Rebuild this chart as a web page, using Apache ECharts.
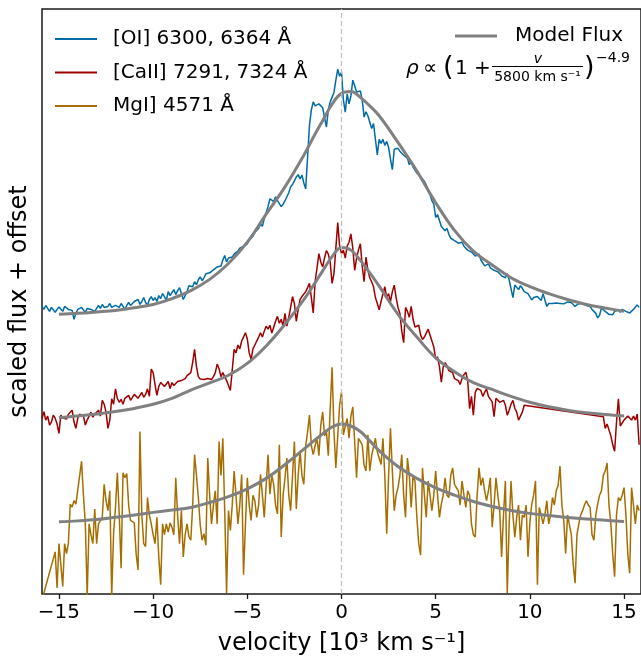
<!DOCTYPE html>
<html>
<head>
<meta charset="utf-8">
<script src="https://cdn.jsdelivr.net/npm/echarts@6/dist/echarts.min.js"></script>
<style>
  html, body { margin: 0; padding: 0; background: #fff; }
  #chart { width: 641px; height: 661px; }
</style>
</head>
<body>
<div id="chart"></div>
<script>
// Velocities in 10^3 km/s. Spectra are sampled every 0.1; each row holds one unit of velocity.
const velocityTicks = [-15, -10, -5, 0, 5, 10, 15];

// [OI] 6300, 6364 profile, rows start at -15.9
const oiStart = -15.9;
const oiRows = [
  [1.455,1.44,1.46,1.445,1.43,1.45,1.438,1.425,1.44,1.452],
  [1.445,1.43,1.455,1.46,1.44,1.45,1.435,1.39,1.42,1.44],
  [1.435,1.45,1.44,1.425,1.445,1.455,1.44,1.45,1.43,1.445],
  [1.46,1.445,1.465,1.45,1.44,1.455,1.47,1.45,1.44,1.46],
  [1.465,1.45,1.47,1.455,1.44,1.46,1.475,1.46,1.45,1.48],
  [1.47,1.49,1.465,1.48,1.5,1.475,1.46,1.49,1.505,1.485],
  [1.5,1.48,1.51,1.495,1.52,1.505,1.485,1.53,1.51,1.525],
  [1.54,1.515,1.535,1.55,1.52,1.49,1.48,1.53,1.56,1.57],
  [1.555,1.58,1.565,1.59,1.605,1.585,1.6,1.62,1.61,1.625],
  [1.615,1.64,1.63,1.655,1.645,1.66,1.69,1.713,1.68,1.7],
  [1.69,1.705,1.72,1.71,1.735,1.75,1.74,1.76,1.755,1.772],
  [1.79,1.78,1.81,1.83,1.82,1.85,1.872,1.86,1.9,1.93],
  [1.96,2.0,2.005,1.985,2.01,1.99,1.975,1.96,1.972,1.99],
  [2.0,2.03,2.06,2.072,2.09,2.11,2.122,2.1,2.12,2.08],
  [2.05,2.04,2.372,2.45,2.49,2.47,2.463,2.48,2.49,2.46],
  [2.47,2.363,2.45,2.49,2.5,2.538,2.6,2.655,2.62,2.64],
  [2.5,2.438,2.53,2.48,2.52,2.6,2.572,2.54,2.55,2.545],
  [2.5,2.413,2.44,2.42,2.43,2.355,2.38,2.37,2.222,2.3],
  [2.28,2.3,2.27,2.29,2.26,2.2,2.147,2.25,2.24,2.255],
  [2.24,2.238,2.22,2.23,2.205,2.172,2.19,2.16,2.15,2.13],
  [2.14,2.11,2.1,2.088,2.07,2.038,2.02,1.99,1.972,1.905],
  [1.92,1.89,1.86,1.87,1.838,1.85,1.82,1.8,1.81,1.788],
  [1.79,1.775,1.77,1.78,1.76,1.755,1.74,1.75,1.73,1.72],
  [1.71,1.705,1.72,1.69,1.68,1.66,1.655,1.67,1.65,1.64],
  [1.638,1.645,1.63,1.62,1.61,1.605,1.6,1.62,1.59,1.58],
  [1.5,1.563,1.555,1.54,1.56,1.547,1.53,1.54,1.52,1.513],
  [1.488,1.5,1.49,1.505,1.497,1.485,1.52,1.522,1.455,1.47],
  [1.475,1.47,1.465,1.472,1.48,1.47,1.475,1.468,1.472,1.478],
  [1.48,1.475,1.47,1.455,1.462,1.47,1.465,1.468,1.472,1.46],
  [1.45,1.455,1.44,1.43,1.42,1.397,1.41,1.447,1.44,1.43],
  [1.425,1.415,1.405,1.413,1.43,1.42,1.438,1.425,1.44,1.438],
  [1.43,1.438,1.422,1.43,1.44,1.435,1.463,1.45]
];

// [CaII] 7291, 7324 profile: two stretches with a masked band between them
const caStartA = -15.9;
const caRowsA = [
  [0.888,0.922,0.88,0.9,0.855,0.87,0.905,0.89,0.86,0.813],
  [0.905,0.89,0.9,0.885,0.91,0.9,0.93,0.87,0.838,0.89],
  [0.91,0.92,0.9,0.855,0.88,0.9,0.92,0.895,0.91,0.92],
  [0.93,0.9,0.98,0.96,0.92,0.838,0.88,0.988,0.96,1.038],
  [0.99,0.97,0.985,0.96,0.99,1.0,1.005,0.98,0.995,1.01],
  [1.0,0.99,1.005,1.02,0.995,1.01,1.038,1.0,1.138,1.12],
  [1.06,1.005,1.05,1.07,1.08,1.05,1.06,1.075,1.04,1.07],
  [1.055,1.06,1.075,1.065,1.08,1.07,1.09,1.105,1.1,1.12],
  [1.172,1.238,1.15,1.1,1.088,1.09,1.085,1.09,1.09,1.09],
  [1.085,1.1,1.12,1.163,1.14,1.1,1.12,1.11,1.08,1.055],
  [1.03,1.022,1.238,1.22,1.26,1.24,1.28,1.3,1.322,1.29],
  [1.22,1.188,1.24,1.26,1.255,1.3,1.322,1.3,1.33,1.355],
  [1.34,1.36,1.32,1.35,1.38,1.405,1.37,1.39,1.355,1.42],
  [1.355,1.4,1.45,1.505,1.47,1.38,1.44,1.49,1.505,1.5],
  [1.53,1.55,1.572,1.5,1.422,1.58,1.65,1.722,1.68,1.655],
  [1.7,1.738,1.72,1.68,1.572,1.62,1.75,1.88,1.76,1.722],
  [1.74,1.7,1.76,1.78,1.822,1.75,1.638,1.7,1.74,1.772],
  [1.66,1.58,1.705,1.64,1.6,1.58,1.555,1.5,1.47,1.438],
  [1.48,1.52,1.555,1.5,1.52,1.48,1.53,1.563,1.5,1.45],
  [1.42,1.33,1.272,1.45,1.43,1.4,1.455,1.39,1.35,1.355],
  [1.36,1.31,1.288,1.3,1.32,1.34,1.33,1.28,1.25,1.188],
  [1.2,1.15,1.072,1.15,1.17,1.155,1.13,1.14,1.12,1.09],
  [1.1,1.08,1.06,1.09,1.11,1.122,1.08,0.938,1.0,0.905],
  [1.02,1.04,1.038,1.03,1.0,1.02,1.038,1.0,1.01,0.972],
  [0.897,0.99,0.99,0.97,0.96,0.98,0.955,0.905,0.93,0.96],
  [0.98,0.94,0.92,0.88,0.9,0.92,0.955]
];
const caStartB = 13.9;
const caRowsB = [
  [0.897,0.838,0.86,0.85,0.8,0.755,0.722,0.87,0.988,0.85],
  [0.86,0.88,0.87,0.9,0.89,0.88,0.9,0.88,0.91,0.755]
];

// MgI] 4571 profile, rows start at -15.9 (null = no sample)
const mgStart = -15.9;
const mgRows = [
  [-0.03,null,null,null,null,null,null,0.213,0.03,0.255],
  [0.15,0.038,0.255,0.205,0.255,0.455,0.44,0.472,0.455,null],
  [null,0.672,0.5,0.355,-0.01,0.355,0.3,0.255,0.43,0.255],
  [0.355,0.35,0.388,0.555,0.472,0.422,0.522,-0.01,0.305,0.438],
  [0.613,0.405,0.13,0.613,0.588,0.61,0.45,0.372,0.38,0.36],
  [0.2,0.122,0.822,0.4,0.255,0.24,0.488,0.4,0.355,0.3],
  [0.255,0.388,0.188,0.047,0.355,0.3,0.355,0.313,0.36,0.338],
  [0.3,0.588,0.4,0.255,0.422,0.188,0.3,0.355,0.29,0.272],
  [0.45,0.705,0.6,0.488,0.35,0.272,0.305,0.247,0.688,0.5],
  [0.355,0.45,0.522,0.355,0.772,0.6,0.788,0.422,0.005,0.422],
  [0.322,0.45,0.622,0.5,0.355,0.45,0.605,0.097,0.35,0.588],
  [0.45,0.372,0.5,0.472,0.388,0.45,0.605,0.5,0.388,0.55],
  [0.705,0.505,0.6,0.555,0.45,0.405,0.755,0.288,0.5,0.588],
  [0.688,0.5,0.422,0.6,0.772,0.43,0.6,0.722,0.6,0.555],
  [0.75,0.822,0.905,0.75,0.705,0.75,0.788,0.7,0.855,0.922],
  [0.8,0.822,0.7,0.938,1.147,0.822,0.638,0.8,0.955,1.022],
  [0.805,0.85,0.888,0.788,0.9,0.947,0.955,0.588,0.788,0.78],
  [0.755,0.65,0.622,0.805,0.622,0.7,0.705,0.788,0.72,0.688],
  [0.655,0.788,0.6,0.305,0.6,0.838,0.62,0.422,0.5,0.538],
  [0.6,0.705,0.5,0.388,0.688,0.6,0.438,0.6,0.572,0.388],
  [0.255,0.197,0.638,0.5,0.388,0.572,0.5,0.422,0.5,0.622],
  [0.5,0.388,0.455,0.5,0.588,0.5,0.488,0.6,0.638,0.555],
  [0.56,0.522,0.45,0.572,0.5,0.438,0.522,0.5,0.355,0.3],
  [0.288,0.5,0.638,0.55,0.588,0.522,0.472,0.522,0.588,0.338],
  [0.45,0.588,0.5,0.422,0.188,0.4,0.572,0.005,0.35,0.572],
  [0.4,0.288,0.388,0.45,0.272,0.4,0.388,0.45,0.188,0.36],
  [0.455,0.5,0.572,0.047,0.438,0.4,0.355,0.4,0.472,0.355],
  [0.4,0.488,0.45,0.522,0.55,0.647,0.45,0.372,0.205,0.4],
  [0.405,0.3,0.15,0.055,0.3,0.355,0.4,0.422,0.45,0.472],
  [0.45,0.438,0.3,0.272,0.4,0.455,0.5,0.522,0.6,0.622],
  [0.663,0.45,0.355,0.2,0.088,0.4,0.488,0.472,0.5,0.538],
  [0.4,0.2,0.105,0.538,0.45,0.355,0.45,0.422]
];

// Model flux for a density profile rho ~ (1 + v/5800 km/s)^-4.9, per line (with its offset)
const modelVelocity = [-15,-14,-13,-12,-11,-10,-9,-8,-7,-6,-5,-4,-3,-2,-1.5,-1,-0.5,0,0.5,1,1.5,2,3,4,5,6,7,8,9,10,11,12,13,14,15];
const oiModel = [1.415,1.42,1.427,1.435,1.448,1.465,1.495,1.535,1.592,1.672,1.78,1.922,2.06,2.22,2.31,2.395,2.478,2.533,2.542,2.513,2.47,2.42,2.285,2.14,1.98,1.84,1.735,1.665,1.6,1.555,1.52,1.49,1.465,1.447,1.43];
const caModel = [0.893,0.901,0.911,0.923,0.939,0.96,0.99,1.032,1.068,1.107,1.167,1.255,1.365,1.49,1.56,1.635,1.707,1.753,1.74,1.688,1.625,1.558,1.415,1.3,1.195,1.125,1.07,1.035,1.0,0.97,0.947,0.93,0.917,0.908,0.901];
const mgModel = [0.365,0.37,0.377,0.388,0.4,0.413,0.425,0.438,0.463,0.493,0.532,0.585,0.655,0.733,0.772,0.81,0.845,0.86,0.85,0.822,0.775,0.725,0.645,0.585,0.537,0.5,0.468,0.443,0.423,0.408,0.397,0.387,0.379,0.373,0.367];

const lineNames = ['[OI] 6300, 6364 Å', '[CaII] 7291, 7324 Å', 'MgI] 4571 Å'];
const modelName = 'Model Flux';

function rowsToPoints(start, rows) {
  const pts = [];
  rows.forEach((row, k) => {
    row.forEach((f, i) => {
      const v = Math.round((start + k + i * 0.1) * 10) / 10;
      pts.push([v, f === null ? '-' : f]);
    });
  });
  return pts;
}
function modelPoints(values) {
  return modelVelocity.map((v, i) => [v, values[i]]);
}

const FONT = '"DejaVu Sans", "Liberation Sans", sans-serif';
const colors = { oi: '#006ba4', ca: '#9e0000', mg: '#a66e00', model: '#808080' };

const spectrum = (name, data, color, extra) => Object.assign({
  name, type: 'line', data, symbol: 'none', connectNulls: true,
  lineStyle: { color, width: 1.5 }, itemStyle: { color },
  emphasis: { disabled: true }, z: 2
}, extra || {});
const model = (data) => ({
  name: modelName, type: 'line', data, symbol: 'none', smooth: 0.4,
  lineStyle: { color: colors.model, width: 3 }, itemStyle: { color: colors.model },
  emphasis: { disabled: true }, z: 3
});

const chart = echarts.init(document.getElementById('chart'), null, { renderer: 'canvas' });
chart.setOption({
  animation: false,
  backgroundColor: '#fff',
  textStyle: { fontFamily: FONT },
  grid: { left: 36, right: -3, top: 9, bottom: 60, show: true, borderColor: '#1a1a1a', borderWidth: 1.5, backgroundColor: 'transparent' },
  xAxis: {
    type: 'value', min: -15.9, max: 15.9,
    name: 'velocity [10³ km s⁻¹]', nameLocation: 'middle', nameGap: 38,
    nameTextStyle: { fontSize: 24, color: '#000', fontFamily: FONT },
    axisLine: { show: false },
    axisTick: { show: true, customValues: velocityTicks, length: 5, lineStyle: { color: '#1a1a1a', width: 1.3 } },
    axisLabel: {
      customValues: velocityTicks, fontSize: 20, color: '#000', fontFamily: FONT, margin: 9,
      formatter: v => (v < 0 ? '\u2212' : '') + Math.abs(v)
    },
    splitLine: { show: false }
  },
  yAxis: {
    type: 'value', min: 0, max: 2.96,
    name: 'scaled flux + offset', nameLocation: 'middle', nameGap: 10,
    nameTextStyle: { fontSize: 24, color: '#000', fontFamily: FONT },
    axisLine: { show: false }, axisTick: { show: false }, axisLabel: { show: false },
    splitLine: { show: false }
  },
  legend: [
    {
      data: lineNames, orient: 'vertical', left: 55, top: 29, padding: 0,
      itemWidth: 42, itemHeight: 2, itemGap: 13.5,
      icon: 'path://M0,0 L42,0 L42,2 L0,2 Z',
      textStyle: { fontSize: 20, color: '#000', fontFamily: FONT, lineHeight: 20, padding: [0, 0, 0, 11] },
      selectedMode: false
    },
    {
      data: [modelName], orient: 'vertical', left: 455, top: 26, padding: 0,
      itemWidth: 42, itemHeight: 3,
      icon: 'path://M0,0 L42,0 L42,3 L0,3 Z',
      textStyle: { fontSize: 20, color: '#000', fontFamily: FONT, lineHeight: 20, padding: [0, 0, 0, 13] },
      selectedMode: false
    }
  ],
  graphic: [
    { type: 'text', x: 406, y: 69, silent: true, style: { text: 'ρ', font: 'italic 20px ' + FONT, fill: '#000', verticalAlign: 'middle' } },
    { type: 'text', x: 423, y: 69, silent: true, style: { text: '∝', font: '20px ' + FONT, fill: '#000', verticalAlign: 'middle' } },
    { type: 'text', x: 443, y: 68, silent: true, style: { text: '(', font: '27px ' + FONT, fill: '#000', verticalAlign: 'middle' } },
    { type: 'text', x: 455, y: 69, silent: true, style: { text: '1 +', font: '20px ' + FONT, fill: '#000', verticalAlign: 'middle' } },
    { type: 'text', x: 538, y: 59, silent: true, style: { text: 'v', font: 'italic 14px ' + FONT, fill: '#000', align: 'center', verticalAlign: 'middle' } },
    { type: 'line', silent: true, shape: { x1: 492, y1: 66.5, x2: 583, y2: 66.5 }, style: { stroke: '#000', lineWidth: 1 } },
    { type: 'text', x: 537.5, y: 77, silent: true, style: { text: '5800 km s⁻¹', font: '14px ' + FONT, fill: '#000', align: 'center', verticalAlign: 'middle' } },
    { type: 'text', x: 584, y: 68, silent: true, style: { text: ')', font: '27px ' + FONT, fill: '#000', verticalAlign: 'middle' } },
    { type: 'text', x: 596, y: 58, silent: true, style: { text: '−4.9', font: '14px ' + FONT, fill: '#000', verticalAlign: 'middle' } }
  ],
  series: [
    spectrum(lineNames[0], rowsToPoints(oiStart, oiRows), colors.oi, {
      markLine: {
        silent: true, symbol: ['none', 'none'], label: { show: false },
        lineStyle: { color: '#bdbdbd', width: 1.2, type: [5, 3] },
        emphasis: { disabled: true },
        data: [{ xAxis: 0 }]
      }
    }),
    spectrum(lineNames[1], rowsToPoints(caStartA, caRowsA).concat(rowsToPoints(caStartB, caRowsB)), colors.ca),
    spectrum(lineNames[2], rowsToPoints(mgStart, mgRows), colors.mg),
    model(modelPoints(oiModel)),
    model(modelPoints(caModel)),
    model(modelPoints(mgModel))
  ]
});
</script>
</body>
</html>
